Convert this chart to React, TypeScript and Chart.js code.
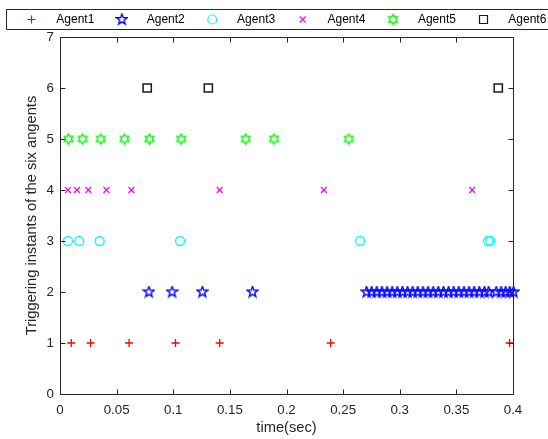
import React, { useEffect, useRef } from 'react';
import { Chart, registerables } from 'chart.js';

Chart.register(...registerables);

// Trigger times (sec) of each agent; each agent sits on its own row 1..6
const AGENT_NAMES = ['Agent1', 'Agent2', 'Agent3', 'Agent4', 'Agent5', 'Agent6'];
const AGENT_ROWS = [1, 2, 3, 4, 5, 6];

const AGENT1_TIMES = [0.010, 0.027, 0.061, 0.102, 0.141, 0.239, 0.397];
const AGENT2_TIMES = [
  0.0785, 0.099, 0.1257, 0.170,
  0.2707, 0.2752, 0.2797, 0.2843, 0.2888, 0.2933, 0.2978, 0.3024, 0.3069, 0.3114,
  0.3159, 0.3205, 0.325, 0.3295, 0.334, 0.3386, 0.3431, 0.3476, 0.3521, 0.3567,
  0.3612, 0.3657, 0.3702, 0.3748, 0.3785, 0.3852, 0.3895, 0.3935, 0.3972, 0.4005,
];
const AGENT3_TIMES = [0.007, 0.017, 0.035, 0.106, 0.265, 0.378, 0.380];
const AGENT4_TIMES = [0.007, 0.015, 0.025, 0.041, 0.063, 0.141, 0.233, 0.364];
const AGENT5_TIMES = [0.0075, 0.020, 0.036, 0.057, 0.079, 0.107, 0.164, 0.189, 0.255];
const AGENT6_TIMES = [0.077, 0.131, 0.387];

const AGENT_TIMES = [AGENT1_TIMES, AGENT2_TIMES, AGENT3_TIMES, AGENT4_TIMES, AGENT5_TIMES, AGENT6_TIMES];
const AGENT_COLORS = ['#ff0000', '#0000ff', '#00ffff', '#ff00ff', '#00ff00', '#1a1a1a'];

const X_TICK_VALUES = [0, 0.05, 0.1, 0.15, 0.2, 0.25, 0.3, 0.35, 0.4];
const X_TICK_LABELS = ['0', '0.05', '0.1', '0.15', '0.2', '0.25', '0.3', '0.35', '0.4'];
const Y_TICK_VALUES = [0, 1, 2, 3, 4, 5, 6, 7];
const Y_TICK_LABELS = ['0', '1', '2', '3', '4', '5', '6', '7'];

const AXIS_COLOR = '#262626';
const FONT_FAMILY = '"Liberation Sans", Arial, Helvetica, sans-serif';

// Outlined n-pointed star drawn onto a small canvas, used as a point style
function starMarker(points: number, outer: number, inner: number, color: string, size: number, lw: number) {
  const c = document.createElement('canvas');
  c.width = size;
  c.height = size;
  const ctx = c.getContext('2d')!;
  ctx.strokeStyle = color;
  ctx.lineWidth = lw;
  ctx.beginPath();
  const cx = size / 2;
  const cy = size / 2;
  for (let i = 0; i < points * 2; i++) {
    const r = i % 2 === 0 ? outer : inner;
    const a = -Math.PI / 2 + (i * Math.PI) / points;
    const px = cx + r * Math.cos(a);
    const py = cy + r * Math.sin(a);
    if (i === 0) ctx.moveTo(px, py);
    else ctx.lineTo(px, py);
  }
  ctx.closePath();
  ctx.stroke();
  return c;
}

// Small marker glyph for the legend strip, mirroring each dataset's point style
function legendGlyph(ctx: CanvasRenderingContext2D, style: any, color: string, x: number, y: number) {
  ctx.save();
  ctx.strokeStyle = color;
  ctx.lineWidth = 1.2;
  ctx.beginPath();
  if (typeof style !== 'string') {
    ctx.drawImage(style, x - style.width / 2, y - style.height / 2);
  } else if (style === 'cross') {
    ctx.moveTo(x - 4, y);
    ctx.lineTo(x + 4, y);
    ctx.moveTo(x, y - 4);
    ctx.lineTo(x, y + 4);
  } else if (style === 'crossRot') {
    ctx.moveTo(x - 3, y - 3);
    ctx.lineTo(x + 3, y + 3);
    ctx.moveTo(x + 3, y - 3);
    ctx.lineTo(x - 3, y + 3);
  } else if (style === 'circle') {
    ctx.arc(x, y, 4.5, 0, Math.PI * 2);
  } else if (style === 'rect') {
    ctx.rect(x - 4, y - 4, 8, 8);
  }
  ctx.stroke();
  ctx.restore();
}

// Boxed legend strip across the top, one entry per dataset
const boxLegend = {
  id: 'boxLegend',
  afterDraw(chart: any) {
    const ctx: CanvasRenderingContext2D = chart.ctx;
    ctx.save();
    ctx.fillStyle = '#ffffff';
    ctx.strokeStyle = AXIS_COLOR;
    ctx.lineWidth = 1;
    ctx.beginPath();
    ctx.rect(6.5, 9.5, 620, 20);
    ctx.fill();
    ctx.stroke();
    const step = 90.4;
    chart.data.datasets.forEach((ds: any, i: number) => {
      legendGlyph(ctx, ds.pointStyle, AGENT_COLORS[i], 31.5 + i * step, 19.5);
      ctx.fillStyle = '#000000';
      ctx.font = '12px ' + FONT_FAMILY;
      ctx.textAlign = 'left';
      ctx.textBaseline = 'middle';
      ctx.fillText(ds.label, 56.3 + i * step, 20);
    });
    ctx.restore();
  },
};

// Box around the plot area with inward tick marks on all four sides
const axesBox = {
  id: 'axesBox',
  afterDraw(chart: any) {
    const { ctx, chartArea: a, scales } = chart;
    const xs = scales.x;
    const ys = scales.y;
    const L = Math.round(a.left) + 0.5;
    const R = Math.round(a.right) + 0.5;
    const T = Math.round(a.top) + 0.5;
    const B = Math.round(a.bottom) + 0.5;
    const len = 5;
    ctx.save();
    ctx.strokeStyle = AXIS_COLOR;
    ctx.lineWidth = 1;
    ctx.beginPath();
    ctx.rect(L, T, R - L, B - T);
    X_TICK_VALUES.forEach((v) => {
      const px = Math.round(xs.getPixelForValue(v)) + 0.5;
      ctx.moveTo(px, B);
      ctx.lineTo(px, B - len);
      ctx.moveTo(px, T);
      ctx.lineTo(px, T + len);
    });
    Y_TICK_VALUES.forEach((v) => {
      const py = Math.round(ys.getPixelForValue(v)) + 0.5;
      ctx.moveTo(L, py);
      ctx.lineTo(L + len, py);
      ctx.moveTo(R, py);
      ctx.lineTo(R - len, py);
    });
    ctx.stroke();
    ctx.restore();
  },
};

export default function App() {
  const canvasRef = useRef<HTMLCanvasElement | null>(null);

  useEffect(() => {
    document.body.style.margin = '0';
    const canvas = canvasRef.current;
    if (!canvas) return;

    const pentagram = starMarker(5, 5.6, 2.3, '#0000ff', 13, 1.4);
    const hexagram = starMarker(6, 5.0, 2.9, '#00ff00', 13, 1.4);

    const styles: any[] = [
      { pointStyle: 'cross', pointRadius: 4, borderWidth: 1.3 },
      { pointStyle: pentagram, pointRadius: 5, borderWidth: 1.3 },
      { pointStyle: 'circle', pointRadius: 4.5, borderWidth: 1.3 },
      { pointStyle: 'crossRot', pointRadius: 4.2, borderWidth: 1.2 },
      { pointStyle: hexagram, pointRadius: 5, borderWidth: 1.3 },
      { pointStyle: 'rect', pointRadius: 5.8, borderWidth: 1.5 },
    ];

    const datasets = AGENT_NAMES.map((name, i) => ({
      label: name,
      data: AGENT_TIMES[i].map((t) => ({ x: t, y: AGENT_ROWS[i] })),
      showLine: false,
      borderColor: AGENT_COLORS[i],
      backgroundColor: 'rgba(0,0,0,0)',
      pointBackgroundColor: 'rgba(0,0,0,0)',
      pointBorderColor: AGENT_COLORS[i],
      pointBorderWidth: styles[i].borderWidth,
      pointHoverRadius: styles[i].pointRadius,
      clip: false as any,
      ...styles[i],
    }));

    Chart.defaults.font.family = FONT_FAMILY;
    Chart.defaults.color = AXIS_COLOR;

    const chart = new Chart(canvas, {
      type: 'scatter',
      data: { datasets },
      options: {
        responsive: false,
        animation: false,
        events: [],
        layout: { padding: { top: 37, right: 35, bottom: 0, left: 0 } },
        plugins: {
          legend: { display: false },
          tooltip: { enabled: false },
          title: { display: false },
        },
        scales: {
          x: {
            type: 'linear',
            min: 0,
            max: 0.4,
            grid: { display: false, drawTicks: false },
            border: { display: false },
            afterBuildTicks: (scale: any) => {
              scale.ticks = X_TICK_VALUES.map((v) => ({ value: v }));
            },
            afterFit: (scale: any) => {
              scale.height = 45;
            },
            ticks: {
              padding: 8,
              maxRotation: 0,
              autoSkip: false,
              font: { size: 13.3 },
              color: AXIS_COLOR,
              callback: (_v: any, idx: number) => X_TICK_LABELS[idx],
            },
            title: {
              display: true,
              text: 'time(sec)',
              font: { size: 14.7 },
              color: AXIS_COLOR,
              padding: { top: 0, bottom: 2 },
            },
          },
          y: {
            type: 'linear',
            min: 0,
            max: 7,
            grid: { display: false, drawTicks: false },
            border: { display: false },
            afterBuildTicks: (scale: any) => {
              scale.ticks = Y_TICK_VALUES.map((v) => ({ value: v }));
            },
            afterFit: (scale: any) => {
              scale.width = 60;
            },
            ticks: {
              padding: 6,
              autoSkip: false,
              font: { size: 13.3 },
              color: AXIS_COLOR,
              callback: (_v: any, idx: number) => Y_TICK_LABELS[idx],
            },
            title: {
              display: true,
              text: 'Triggering instants of the six angents',
              font: { size: 14.7 },
              color: AXIS_COLOR,
              padding: { top: 23, bottom: 0 },
            },
          },
        },
      },
      plugins: [axesBox, boxLegend],
    });

    return () => {
      chart.destroy();
    };
  }, []);

  return (
    <div style={{ width: 548, height: 439, background: '#ffffff' }}>
      <canvas ref={canvasRef} width={548} height={439} style={{ display: 'block' }} />
    </div>
  );
}
